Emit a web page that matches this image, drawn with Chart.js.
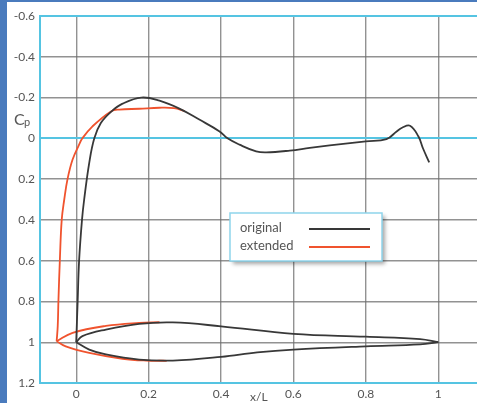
<!DOCTYPE html>
<html>
<head>
<meta charset="utf-8">
<script src="https://cdn.jsdelivr.net/npm/chart.js@4"></script>
<style>
  html, body { margin: 0; padding: 0; background: #4a7bbd; overflow: hidden; }
  #wrap { position: absolute; left: 7px; top: 2px; width: 470px; height: 401px; background: #fff; }
</style>
</head>
<body>
<div id="wrap"><canvas id="cpChart" width="470" height="401"></canvas></div>
<script>
// tick labels
const xTickValues = [0, 0.2, 0.4, 0.6, 0.8, 1];
const xTickLabels = ['0', '0.2', '0.4', '0.6', '0.8', '1'];
const yTickValues = [-0.6, -0.4, -0.2, 0, 0.2, 0.4, 0.6, 0.8, 1, 1.2];
const yTickLabels = ['-0.6', '-0.4', '-0.2', '0', '0.2', '0.4', '0.6', '0.8', '1', '1.2'];

// original: suction side, from trailing end to leading edge
const origTopX  = [0.975, 0.958, 0.945, 0.922, 0.9, 0.885, 0.857, 0.8, 0.7, 0.645, 0.59, 0.525, 0.497, 0.451, 0.418, 0.396, 0.34, 0.285, 0.23, 0.18, 0.128, 0.096, 0.068, 0.05, 0.036, 0.022, 0.016, 0.008, 0.004, 0.0];
const origTopCp = [0.118, 0.05, -0.01, -0.062, -0.052, -0.034, 0.004, 0.015, 0.035, 0.047, 0.06, 0.069, 0.064, 0.031, 0.0, -0.034, -0.092, -0.146, -0.185, -0.2, -0.17, -0.13, -0.075, 0.0, 0.12, 0.3, 0.4, 0.6, 0.8, 1.0];
// original: closed loop near Cp = 1
const origLoopLowX  = [0.0, 0.036, 0.082, 0.174, 0.267, 0.4, 0.5, 0.6, 0.8, 0.95, 1.0];
const origLoopLowCp = [1.0, 1.036, 1.06, 1.085, 1.09, 1.072, 1.05, 1.036, 1.02, 1.011, 1.0];
const origLoopUpX  = [0.0, 0.017, 0.082, 0.174, 0.267, 0.4, 0.6, 0.8, 0.95, 1.0];
const origLoopUpCp = [1.0, 0.97, 0.938, 0.91, 0.903, 0.922, 0.959, 0.973, 0.985, 1.0];

// extended
const extTopX  = [-0.054, -0.051, -0.049, -0.045, -0.04, -0.033, -0.024, -0.01, 0.008, 0.017, 0.045, 0.096, 0.119, 0.174, 0.23, 0.27, 0.3];
const extTopCp = [0.995, 0.92, 0.79, 0.59, 0.4, 0.3, 0.2, 0.104, 0.031, 0.0, -0.059, -0.132, -0.141, -0.145, -0.15, -0.148, -0.134];
const extLoopLowX  = [-0.054, -0.029, 0.036, 0.128, 0.193, 0.25];
const extLoopLowCp = [0.995, 1.02, 1.052, 1.081, 1.09, 1.091];
const extLoopUpX  = [-0.054, -0.01, 0.082, 0.174, 0.23];
const extLoopUpCp = [0.995, 0.954, 0.92, 0.905, 0.902];

const BLACK = '#383838';
const RED = '#f0532e';
const BLUE = '#55c4e2';
const GRAY = 'rgba(110,110,110,0.75)';
const TEXT = '#555';
const FONT = 'Lato, "Open Sans", sans-serif';

function pts(xs, ys) {
    return xs.map((x, i) => ({ x: x, y: ys[i] }));
}

function line(data, color) {
    return {
        data: data,
        showLine: true,
        borderColor: color,
        borderWidth: 1.8,
        pointRadius: 0,
        tension: 0.4,
        fill: false
    };
}

// labels C_p, x/L and the boxed legend
const extras = {
    id: 'extras',
    afterDraw(chart) {
        const ctx = chart.ctx;
        ctx.save();
        ctx.fillStyle = TEXT;
        ctx.textBaseline = 'alphabetic';
        ctx.font = '16px ' + FONT;
        ctx.fillText('C', 7, 123);
        ctx.font = '11px ' + FONT;
        ctx.fillText('p', 17, 124);
        ctx.font = '12px ' + FONT;
        ctx.textBaseline = 'middle';
        ctx.fillText('x/L', 243, 395);

        // legend box
        const bx = 223, by = 211, bw = 152, bh = 48;
        ctx.shadowColor = 'rgba(0,0,0,0.35)';
        ctx.shadowBlur = 4;
        ctx.shadowOffsetX = 3;
        ctx.shadowOffsetY = 3;
        ctx.fillStyle = '#fff';
        ctx.fillRect(bx, by, bw, bh);
        ctx.shadowColor = 'transparent';
        ctx.strokeStyle = '#8fd5ec';
        ctx.lineWidth = 1.5;
        ctx.strokeRect(bx, by, bw, bh);

        ctx.font = '13px ' + FONT;
        ctx.fillStyle = TEXT;
        ctx.textBaseline = 'alphabetic';
        ctx.fillText('original', 233, 230);
        ctx.fillText('extended', 233, 248);
        ctx.lineWidth = 2;
        ctx.strokeStyle = BLACK;
        ctx.beginPath(); ctx.moveTo(302, 227); ctx.lineTo(363, 227); ctx.stroke();
        ctx.strokeStyle = RED;
        ctx.beginPath(); ctx.moveTo(302, 245); ctx.lineTo(363, 245); ctx.stroke();
        ctx.restore();
    }
};

const ctx = document.getElementById('cpChart').getContext('2d');
new Chart(ctx, {
    type: 'scatter',
    data: {
        datasets: [
            line(pts(origTopX, origTopCp), BLACK),
            line(pts(origLoopLowX, origLoopLowCp), BLACK),
            line(pts(origLoopUpX, origLoopUpCp), BLACK),
            line(pts(extTopX, extTopCp), RED),
            line(pts(extLoopLowX, extLoopLowCp), RED),
            line(pts(extLoopUpX, extLoopUpCp), RED)
        ]
    },
    options: {
        responsive: false,
        animation: false,
        layout: { padding: { top: 14, right: 0, left: 0, bottom: 0 } },
        plugins: {
            legend: { display: false },
            tooltip: { enabled: false }
        },
        scales: {
            x: {
                type: 'linear',
                min: -0.1,
                max: 1.107,
                afterBuildTicks: scale => { scale.ticks = xTickValues.map(v => ({ value: v })); },
                afterFit: scale => { scale.height = 20; },
                ticks: {
                    padding: 4,
                    color: TEXT,
                    font: { family: FONT, size: 12 },
                    maxRotation: 0,
                    autoSkip: false,
                    callback: (value, index) => xTickLabels[index]
                },
                grid: { color: GRAY, lineWidth: 1.4, drawTicks: false },
                border: { color: BLUE, width: 2 }
            },
            y: {
                type: 'linear',
                reverse: true,
                min: -0.6,
                max: 1.2,
                afterBuildTicks: scale => { scale.ticks = yTickValues.map(v => ({ value: v })); },
                afterFit: scale => { scale.width = 33; },
                ticks: {
                    padding: 5,
                    color: TEXT,
                    font: { family: FONT, size: 12 },
                    autoSkip: false,
                    callback: (value, index) => yTickLabels[index]
                },
                grid: {
                    drawTicks: false,
                    color: c => (c.tick && (Math.abs(c.tick.value) < 1e-9 || c.tick.value === -0.6 || c.tick.value === 1.2)) ? BLUE : GRAY,
                    lineWidth: c => (c.tick && (Math.abs(c.tick.value) < 1e-9 || c.tick.value === -0.6 || c.tick.value === 1.2)) ? 2 : 1.4
                },
                border: { color: BLUE, width: 2 }
            }
        }
    },
    plugins: [extras]
});
</script>
</body>
</html>
